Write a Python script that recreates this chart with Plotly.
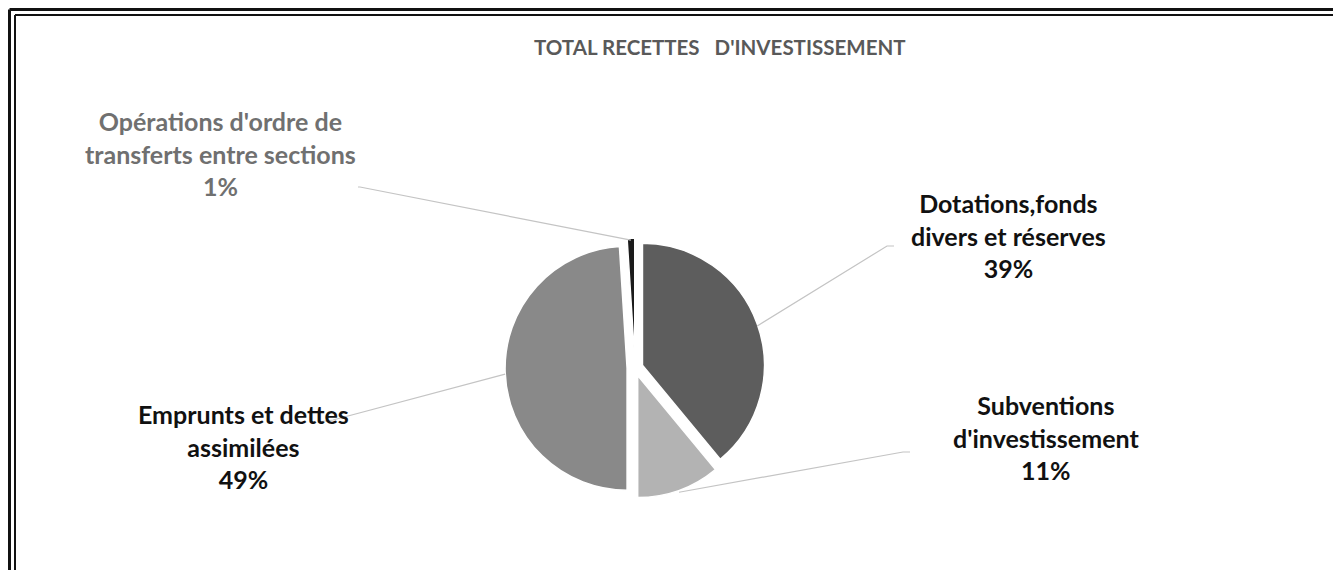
import math
import plotly.graph_objects as go

# ---- data ----
categories = ["Dotations,fonds<br>divers et réserves",
              "Subventions<br>d'investissement",
              "Emprunts et dettes<br>assimilées",
              "Opérations d'ordre de<br>transferts entre sections"]
values = [39, 11, 49, 1]
pct_labels = ["39%", "11%", "49%", "1%"]
colors = ["#5d5d5d", "#b3b3b3", "#898989", "#1b1b1b"]
label_colors = ["#111111", "#111111", "#111111", "#707070"]

title_text = "TOTAL RECETTES\u00a0\u00a0\u00a0D'INVESTISSEMENT"

W, H = 1333, 570
# pie geometry (pixels)
CX, CY = 635, 370
R = 122
PULL = 0.065
half = R * (1 + PULL)
DX, DY = 0, -2

# label text centres (pixels) and leader elbow points
label_pos = [(1008, 236), (1046, 438), (243, 446), (220, 154)]
elbows = [((887, 246), (894, 246)), ((903, 452), (910, 452)),
          ((333, 420), (318, 422)), ((360, 187), (358, 187))]

fig = go.Figure()
fig.add_trace(go.Pie(
    labels=[c.replace("<br>", " ") for c in categories],
    values=values,
    sort=False,
    direction="clockwise",
    rotation=0,
    pull=[PULL] * len(values),
    marker=dict(colors=colors, line=dict(color="white", width=1.5)),
    textinfo="none",
    hoverinfo="label+percent",
    showlegend=False,
    domain=dict(x=[(CX + DX - half) / W, (CX + DX + half) / W],
                y=[1 - (CY + DY + half) / H, 1 - (CY + DY - half) / H]),
))

def px(x):
    return x / W

def py(y):
    return 1 - y / H

shapes = []
annotations = []
total = sum(values)
cum = 0
for i, v in enumerate(values):
    mid = (cum + v / 2) / total * 2 * math.pi
    cum += v
    sx = CX + (R + PULL * R) * math.sin(mid)
    sy = CY - (R + PULL * R) * math.cos(mid)
    (ex, ey), (fx, fy) = elbows[i]
    shapes.append(dict(type="path", xref="paper", yref="paper",
                       path=f"M {px(sx)},{py(sy)} L {px(ex)},{py(ey)} L {px(fx)},{py(fy)}",
                       line=dict(color="#c4c4c4", width=1.2)))
    lx, ly = label_pos[i]
    annotations.append(dict(
        x=px(lx), y=py(ly), xref="paper", yref="paper",
        text="<b>" + categories[i] + "<br>" + pct_labels[i] + "</b>",
        showarrow=False, xanchor="center", yanchor="middle", align="center",
        font=dict(family="Lato", size=25, color=label_colors[i]),
    ))

# double frame (top and left edges only)
shapes += [
    dict(type="line", xref="paper", yref="paper", x0=px(9.5), y0=py(9.5), x1=1.05, y1=py(9.5),
         line=dict(color="#111111", width=3)),
    dict(type="line", xref="paper", yref="paper", x0=px(9.5), y0=py(9.5), x1=px(9.5), y1=-0.05,
         line=dict(color="#111111", width=3)),
    dict(type="line", xref="paper", yref="paper", x0=px(15), y0=py(15), x1=1.05, y1=py(15),
         line=dict(color="#111111", width=2)),
    dict(type="line", xref="paper", yref="paper", x0=px(15), y0=py(15), x1=px(15), y1=-0.05,
         line=dict(color="#111111", width=2)),
]

annotations.append(dict(
    x=px(720), y=py(47), xref="paper", yref="paper", showarrow=False,
    text="<b>" + title_text + "</b>", xanchor="center", yanchor="middle",
    font=dict(family="Lato", size=20.5, color="#595959"),
))

fig.update_layout(
    width=W, height=H,
    margin=dict(l=0, r=0, t=0, b=0),
    paper_bgcolor="white", plot_bgcolor="white",
    shapes=shapes, annotations=annotations,
)

fig.write_html("out.html", config={"displayModeBar": False},
               post_script="document.documentElement.style.overflow='hidden';"
                           "document.body.style.margin='0';document.body.style.overflow='hidden';")
